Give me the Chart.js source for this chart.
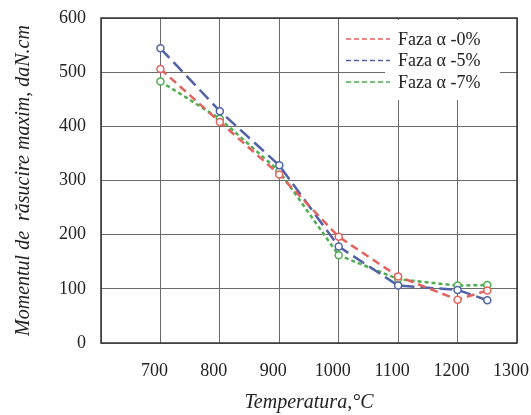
<!DOCTYPE html>
<html>
<head>
<meta charset="utf-8">
<script src="https://cdn.jsdelivr.net/npm/chart.js@4.4.0/dist/chart.umd.min.js"></script>
<style>
  html, body { margin: 0; padding: 0; background: #fff; }
  #wrap { width: 531px; height: 415px; }
</style>
</head>
<body>
<div id="wrap"><canvas id="myChart" width="531" height="415"></canvas></div>
<script>
      // Data block
      const temps = [700, 800, 900, 1000, 1100, 1200, 1250];
      const faza0 = [506, 408, 311, 196, 123, 80, 97];
      const faza5 = [544, 428, 328, 178, 106, 98, 79];
      const faza7 = [483, 414, 317, 162, 118, 106, 107];
      const seriesNames = ['Faza α -0%', 'Faza α -5%', 'Faza α -7%'];
      const yTicks = [0, 100, 200, 300, 400, 500, 600];
      const xTicks = [700, 800, 900, 1000, 1100, 1200, 1300];

      const serif = "'Liberation Serif', 'Times New Roman', serif";

      function pts(vals) {
        return temps.map((t, i) => ({ x: t, y: vals[i] }));
      }

      function line(label, vals, color, dash) {
        return {
          label: label,
          data: pts(vals),
          borderColor: color,
          borderWidth: 2.5,
          borderDash: dash,
          pointStyle: 'circle',
          pointRadius: 3.5,
          pointBorderWidth: 1.5,
          pointBorderColor: color,
          pointBackgroundColor: '#fff',
          tension: 0,
          fill: false
        };
      }

      const data = {
        datasets: [
          line(seriesNames[0], faza0, '#e3625d', [8, 5]),
          line(seriesNames[1], faza5, '#5262a8', [13, 6]),
          line(seriesNames[2], faza7, '#4fae52', [4, 3])
        ]
      };

      // frame round the plot + legend box inside it
      const framePlugin = {
        id: 'frame',
        afterDatasetsDraw: (chart) => {
          const ctx = chart.ctx;
          const a = chart.chartArea;
          ctx.save();
          ctx.strokeStyle = '#333';
          ctx.lineWidth = 1.5;
          ctx.strokeRect(a.left, a.top, a.right - a.left, a.bottom - a.top);

          // legend
          ctx.fillStyle = '#fff';
          ctx.fillRect(385, a.top + 2, 115, 80);
          ctx.font = "18px " + serif;
          ctx.textBaseline = 'middle';
          chart.data.datasets.forEach((ds, i) => {
            const y = 39 + i * 21.5;
            ctx.strokeStyle = ds.borderColor;
            ctx.lineWidth = 1.3;
            ctx.setLineDash([5, 3]);
            ctx.beginPath();
            ctx.moveTo(346, y);
            ctx.lineTo(390, y);
            ctx.stroke();
            ctx.setLineDash([]);
            ctx.fillStyle = '#222';
            ctx.fillText(ds.label, 398, y + 1);
          });
          ctx.restore();
        }
      };

      const config = {
        type: 'line',
        data: data,
        options: {
          responsive: false,
          animation: false,
          layout: { padding: { left: 0, right: 14, top: 18, bottom: 0 } },
          plugins: {
            legend: { display: false },
            tooltip: { enabled: false }
          },
          scales: {
            x: {
              type: 'linear',
              min: 600,
              max: 1300,
              afterBuildTicks: (scale) => {
                scale.ticks = [600].concat(xTicks).map(v => ({ value: v }));
              },
              afterFit: (scale) => {
                scale.height = 72;
                scale.paddingLeft = 0;
                scale.paddingRight = 0;
              },
              ticks: {
                color: '#222',
                font: { family: serif, size: 18 },
                padding: 17,
                labelOffset: -6,
                maxRotation: 0,
                callback: (v) => (v === 600 ? '' : v)
              },
              grid: { color: '#6a6a6a', lineWidth: 1, drawTicks: false },
              border: { display: false },
              title: {
                display: true,
                text: 'Temperatura,°C',
                color: '#222',
                font: { family: serif, size: 20, style: 'italic' },
                padding: { top: 0, bottom: 0 }
              }
            },
            y: {
              min: 0,
              max: 600,
              afterBuildTicks: (scale) => {
                scale.ticks = yTicks.map(v => ({ value: v }));
              },
              afterFit: (scale) => {
                scale.width = 101;
                scale.paddingTop = 0;
                scale.paddingBottom = 0;
              },
              ticks: {
                color: '#222',
                font: { family: serif, size: 18 },
                padding: 15
              },
              grid: { color: '#6a6a6a', lineWidth: 1, drawTicks: false },
              border: { display: false },
              title: {
                display: true,
                text: 'Momentul de  răsucire maxim, daN.cm',
                color: '#222',
                font: { family: serif, size: 20, style: 'italic' },
                padding: { top: 12, bottom: 0 }
              }
            }
          }
        },
        plugins: [framePlugin]
      };

      // Render block
      const myChart = new Chart(document.getElementById('myChart'), config);
</script>
</body>
</html>
